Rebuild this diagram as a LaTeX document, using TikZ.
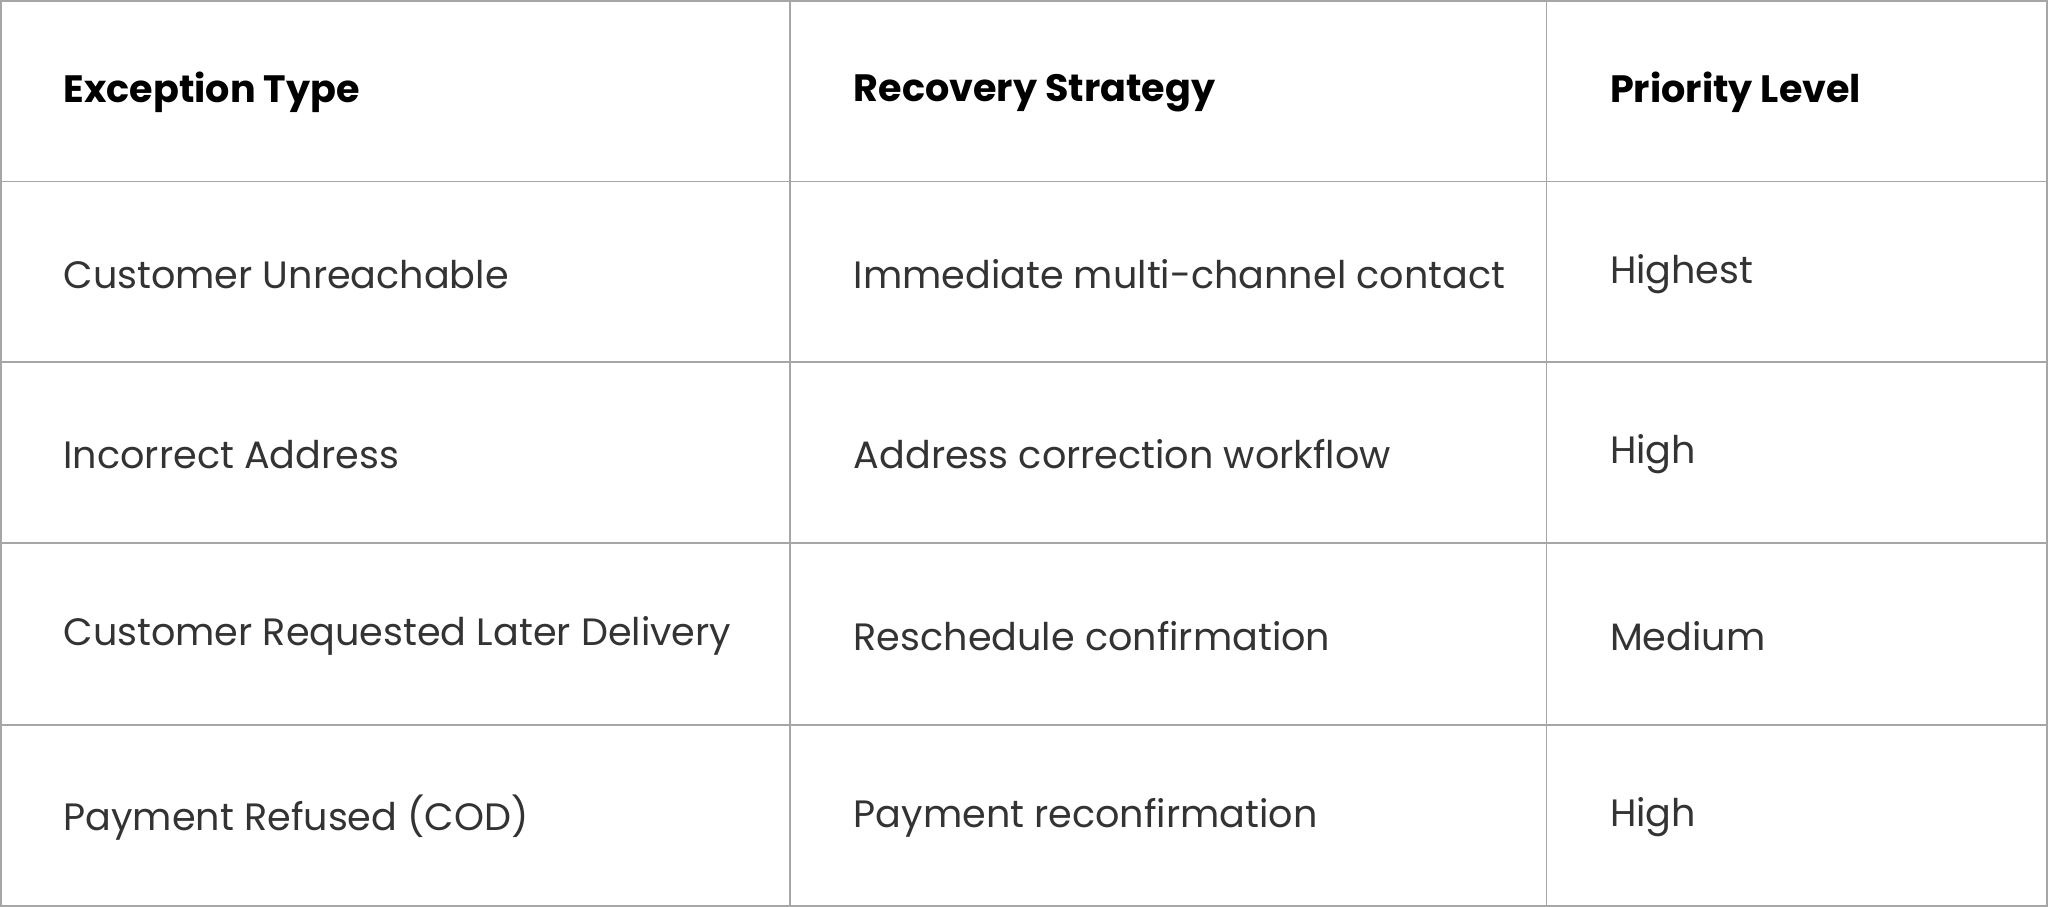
\documentclass[tikz,border=0pt]{standalone}
\usepackage{fontspec}
\setmainfont{Poppins}
\begin{document}
\begin{tikzpicture}[x=0.01cm,y=-0.01cm,
  grid/.style={draw=black!35,line width=0.4pt},
  hd/.style={anchor=west,inner sep=0,font=\fontsize{8.3}{10}\selectfont\bfseries,text=black},
  cell/.style={anchor=west,inner sep=0,font=\fontsize{8.3}{10}\selectfont,text=black!80}]
\useasboundingbox (0,0) rectangle (1568,694);
\fill[white] (0,0) rectangle (1568,694);
\draw[grid] (0.5,0.5) rectangle (1567.5,693.5);
\foreach \y in {139,277,416,555} \draw[grid] (0,\y) -- (1568,\y);
\foreach \x in {605,1184} \draw[grid] (\x,0) -- (\x,694);
\node[hd] (h1) at (48,71) {Exception Type};
\node[hd] (h2) at (653,71) {Recovery Strategy};
\node[hd] (h3) at (1232,71) {Priority Level};
\node[cell] (a1) at (48,210) {Customer Unreachable};
\node[cell] (b1) at (653,210) {Immediate multi-channel contact};
\node[cell] (c1) at (1232,210) {Highest};
\node[cell] (a2) at (48,348) {Incorrect Address};
\node[cell] (b2) at (653,348) {Address correction workflow};
\node[cell] (c2) at (1232,348) {High};
\node[cell] (a3) at (48,487) {Customer Requested Later Delivery};
\node[cell] (b3) at (653,487) {Reschedule confirmation};
\node[cell] (c3) at (1232,487) {Medium};
\node[cell] (a4) at (48,626) {Payment Refused (COD)};
\node[cell] (b4) at (653,626) {Payment reconfirmation};
\node[cell] (c4) at (1232,626) {High};
\end{tikzpicture}
\end{document}
